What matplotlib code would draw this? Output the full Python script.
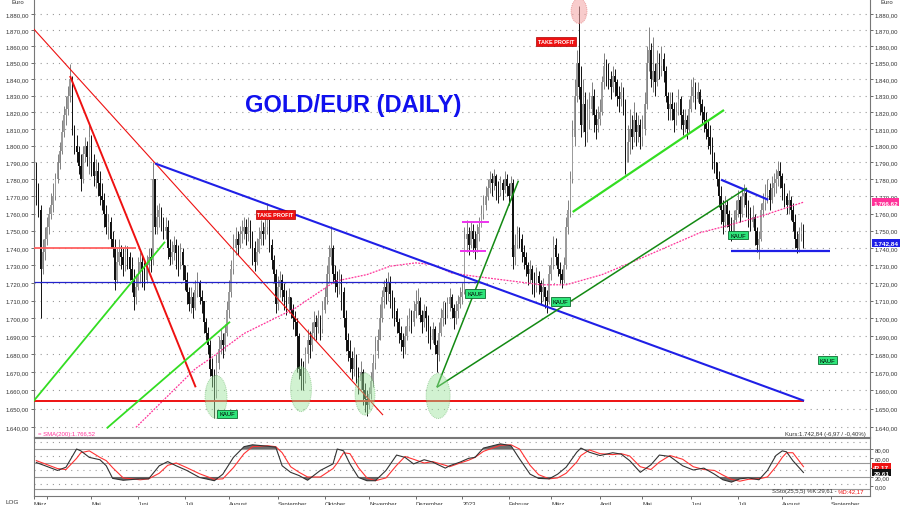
import numpy as np
import pandas as pd
import matplotlib
matplotlib.use("Agg")
import matplotlib.pyplot as plt
from matplotlib.patches import Ellipse
from matplotlib.ticker import FixedLocator, NullLocator, FuncFormatter
from matplotlib.transforms import blended_transform_factory

plt.rcParams['font.family'] = ['Liberation Sans', 'DejaVu Sans']

# daily gold in euro, first bar 25.03.2022
close = [1775, 1762, 1728, 1738, 1745, 1752, 1760, 1765, 1770, 1780,
         1790, 1797, 1808, 1818, 1822, 1830, 1840, 1810, 1800, 1796,
         1788, 1780, 1795, 1800, 1793, 1805, 1790, 1782, 1785, 1778,
         1770, 1768, 1760, 1752, 1755, 1745, 1740, 1722, 1732, 1738,
         1735, 1730, 1738, 1735, 1728, 1722, 1712, 1718, 1725, 1732,
         1728, 1722, 1730, 1735, 1733, 1780, 1752, 1758, 1762, 1755,
         1750, 1752, 1740, 1735, 1738, 1742, 1737, 1732, 1738, 1730,
         1722, 1715, 1708, 1712, 1706, 1716, 1720, 1712, 1710, 1698,
         1692, 1685, 1672, 1668, 1660, 1675, 1683, 1688, 1685, 1692,
         1705, 1715, 1728, 1740, 1745, 1742, 1748, 1750, 1752, 1748,
         1752, 1746, 1740, 1732, 1738, 1745, 1750, 1748, 1752, 1756,
         1742, 1733, 1725, 1708, 1718, 1722, 1716, 1712, 1708, 1712,
         1705, 1700, 1698, 1690, 1672, 1668, 1665, 1680, 1688, 1685,
         1692, 1698, 1695, 1700, 1694, 1705, 1712, 1725, 1735, 1740,
         1725, 1722, 1718, 1722, 1715, 1700, 1688, 1682, 1678, 1672,
         1678, 1670, 1665, 1670, 1660, 1655, 1652, 1658, 1665, 1675,
         1682, 1688, 1700, 1712, 1718, 1715, 1720, 1714, 1708, 1704,
         1698, 1692, 1688, 1684, 1690, 1696, 1700, 1698, 1704, 1708,
         1710, 1702, 1698, 1704, 1700, 1692, 1688, 1694, 1685, 1680,
         1692, 1700, 1705, 1702, 1708, 1712, 1706, 1700, 1704, 1708,
         1712, 1715, 1745, 1748, 1742, 1750, 1745, 1740, 1748, 1752,
         1760, 1765, 1770, 1775, 1780, 1778, 1782, 1776, 1772, 1778,
         1774, 1780, 1776, 1770, 1778, 1735, 1742, 1748, 1745, 1738,
         1735, 1730, 1725, 1728, 1722, 1718, 1724, 1720, 1715, 1718,
         1712, 1710, 1725, 1730, 1742, 1735, 1728, 1725, 1722, 1730,
         1752, 1762, 1780, 1805, 1830, 1850, 1835, 1812, 1825, 1808,
         1815, 1822, 1830, 1818, 1812, 1816, 1820, 1838, 1848, 1845,
         1840, 1835, 1842, 1838, 1830, 1828, 1832, 1826, 1790, 1802,
         1810, 1805, 1815, 1808, 1812, 1805, 1810, 1825, 1850, 1858,
         1840, 1845, 1838, 1850, 1848, 1852, 1845, 1830, 1822, 1825,
         1822, 1815, 1820, 1828, 1818, 1812, 1815, 1810, 1822, 1830,
         1835, 1828, 1832, 1825, 1820, 1815, 1810, 1805, 1800, 1795,
         1790, 1780, 1770, 1762, 1755, 1765, 1760, 1752, 1748, 1756,
         1762, 1768, 1760, 1770, 1772, 1765, 1760, 1755, 1758, 1750,
         1742, 1745, 1762, 1766, 1770, 1774, 1768, 1775, 1778, 1780,
         1785, 1782, 1775, 1770, 1765, 1768, 1762, 1755, 1745, 1740,
         1748, 1749.81, 1742.84]
high = [1790, 1778, 1765, 1745, 1752, 1758, 1764, 1772, 1778, 1784,
        1795, 1802, 1815, 1824, 1830, 1836, 1849, 1842, 1812, 1806,
        1800, 1795, 1800, 1805, 1803, 1812, 1806, 1795, 1792, 1790,
        1785, 1778, 1772, 1765, 1760, 1758, 1750, 1745, 1740, 1745,
        1742, 1740, 1742, 1741, 1738, 1735, 1728, 1725, 1735, 1738,
        1736, 1732, 1736, 1740, 1740, 1790, 1775, 1765, 1766, 1764,
        1758, 1758, 1756, 1745, 1744, 1747, 1745, 1742, 1743, 1740,
        1730, 1726, 1718, 1718, 1715, 1722, 1726, 1722, 1716, 1710,
        1700, 1695, 1688, 1678, 1672, 1680, 1690, 1694, 1692, 1697,
        1710, 1722, 1733, 1748, 1752, 1750, 1753, 1756, 1758, 1757,
        1758, 1756, 1750, 1744, 1746, 1752, 1756, 1755, 1758, 1766,
        1754, 1745, 1736, 1728, 1724, 1727, 1725, 1720, 1716, 1717,
        1712, 1708, 1704, 1700, 1692, 1678, 1676, 1684, 1694, 1693,
        1698, 1704, 1702, 1705, 1702, 1710, 1718, 1730, 1742, 1753,
        1742, 1730, 1727, 1728, 1725, 1718, 1705, 1692, 1688, 1682,
        1684, 1680, 1673, 1676, 1672, 1664, 1660, 1662, 1670, 1680,
        1690, 1694, 1708, 1716, 1722, 1723, 1726, 1724, 1716, 1712,
        1706, 1700, 1696, 1692, 1696, 1702, 1706, 1705, 1710, 1716,
        1717, 1712, 1705, 1708, 1707, 1702, 1696, 1698, 1696, 1688,
        1698, 1706, 1710, 1709, 1712, 1717, 1714, 1708, 1710, 1713,
        1718, 1720, 1752, 1756, 1752, 1755, 1754, 1750, 1754, 1758,
        1765, 1771, 1776, 1780, 1785, 1784, 1786, 1783, 1779, 1782,
        1780, 1785, 1783, 1778, 1782, 1780, 1748, 1753, 1752, 1748,
        1742, 1738, 1732, 1733, 1730, 1726, 1729, 1727, 1722, 1723,
        1718, 1716, 1730, 1735, 1747, 1746, 1737, 1732, 1728, 1735,
        1758, 1768, 1785, 1815, 1840, 1858, 1885, 1848, 1840, 1832,
        1828, 1832, 1838, 1834, 1822, 1824, 1828, 1842, 1856, 1852,
        1850, 1845, 1848, 1846, 1840, 1836, 1838, 1835, 1828, 1812,
        1822, 1818, 1826, 1820, 1818, 1816, 1818, 1832, 1860, 1872,
        1862, 1866, 1850, 1858, 1856, 1860, 1856, 1848, 1832, 1832,
        1832, 1826, 1826, 1834, 1830, 1822, 1822, 1818, 1828, 1840,
        1841, 1838, 1838, 1834, 1828, 1824, 1820, 1815, 1812, 1805,
        1796, 1790, 1785, 1776, 1768, 1770, 1768, 1762, 1758, 1762,
        1768, 1774, 1770, 1775, 1777, 1775, 1768, 1764, 1765, 1760,
        1752, 1750, 1766, 1772, 1777, 1780, 1778, 1782, 1784, 1786,
        1791, 1790, 1784, 1778, 1772, 1774, 1770, 1766, 1760, 1750,
        1752, 1755, 1754]
low = [1765, 1758, 1700, 1725, 1733, 1742, 1748, 1757, 1761, 1768,
       1778, 1786, 1795, 1805, 1812, 1818, 1826, 1806, 1795, 1790,
       1783, 1773, 1778, 1790, 1788, 1783, 1782, 1776, 1775, 1770,
       1765, 1762, 1752, 1748, 1745, 1740, 1735, 1716, 1720, 1730,
       1728, 1724, 1727, 1728, 1722, 1715, 1705, 1708, 1716, 1720,
       1718, 1716, 1720, 1727, 1726, 1730, 1748, 1748, 1752, 1750,
       1745, 1745, 1734, 1730, 1731, 1733, 1728, 1724, 1728, 1722,
       1716, 1708, 1704, 1703, 1700, 1705, 1712, 1708, 1703, 1692,
       1688, 1680, 1668, 1662, 1645, 1656, 1672, 1680, 1678, 1682,
       1690, 1700, 1712, 1725, 1736, 1736, 1740, 1743, 1745, 1742,
       1744, 1740, 1730, 1727, 1730, 1737, 1742, 1742, 1745, 1748,
       1738, 1728, 1720, 1703, 1705, 1712, 1710, 1705, 1702, 1703,
       1700, 1694, 1690, 1670, 1666, 1660, 1660, 1664, 1675, 1678,
       1682, 1688, 1688, 1692, 1688, 1692, 1703, 1708, 1720, 1730,
       1720, 1715, 1712, 1714, 1705, 1695, 1682, 1676, 1670, 1666,
       1668, 1664, 1658, 1660, 1652, 1648, 1646, 1650, 1655, 1662,
       1672, 1678, 1688, 1698, 1706, 1708, 1710, 1706, 1700, 1696,
       1692, 1686, 1682, 1678, 1680, 1688, 1693, 1692, 1696, 1700,
       1702, 1698, 1692, 1695, 1693, 1686, 1683, 1686, 1680, 1670,
       1676, 1690, 1696, 1697, 1700, 1704, 1700, 1694, 1697, 1700,
       1706, 1708, 1714, 1738, 1736, 1740, 1738, 1734, 1738, 1744,
       1752, 1757, 1762, 1768, 1772, 1770, 1774, 1768, 1766, 1770,
       1768, 1772, 1770, 1765, 1768, 1728, 1730, 1740, 1740, 1732,
       1728, 1724, 1719, 1720, 1714, 1712, 1715, 1714, 1708, 1710,
       1706, 1703, 1708, 1722, 1728, 1730, 1724, 1720, 1717, 1720,
       1728, 1748, 1758, 1778, 1800, 1826, 1828, 1805, 1808, 1800,
       1802, 1810, 1818, 1808, 1804, 1808, 1812, 1818, 1834, 1836,
       1834, 1828, 1832, 1830, 1824, 1820, 1824, 1818, 1783, 1790,
       1795, 1798, 1802, 1800, 1802, 1798, 1800, 1806, 1822, 1845,
       1835, 1832, 1830, 1836, 1840, 1842, 1838, 1826, 1815, 1815,
       1815, 1808, 1812, 1818, 1810, 1806, 1808, 1804, 1808, 1820,
       1826, 1822, 1826, 1818, 1812, 1808, 1804, 1798, 1795, 1786,
       1784, 1776, 1764, 1754, 1748, 1752, 1752, 1745, 1744, 1746,
       1755, 1758, 1755, 1758, 1764, 1758, 1752, 1750, 1752, 1742,
       1738, 1734, 1744, 1758, 1762, 1766, 1762, 1766, 1770, 1772,
       1776, 1775, 1768, 1764, 1760, 1760, 1756, 1750, 1740, 1737,
       1738, 1744, 1740]
first_open = 1780

# SMA(200) (bar index, value)
sma_idx = [47, 75, 82, 98, 106, 122, 141, 156, 167, 179, 187, 196, 207,
           226, 238, 250, 267, 282, 313, 326, 342, 362]
sma_val = [1639.8, 1671.9, 1677.5, 1691.5, 1696.2, 1705.6, 1721.0, 1724.8,
           1729.6, 1731.5, 1730.5, 1725.7, 1723.8, 1720.9, 1719.0, 1719.0,
           1724.8, 1732.4, 1748.8, 1752.9, 1758.5, 1766.6]

# slow stochastic (25,5,5)
stoch_idx = [0, 3, 10, 14, 19, 21, 25, 30, 33, 36, 41, 49, 53, 58, 62, 66, 71,
             77, 84, 88, 93, 98, 102, 109, 113, 116, 120, 124, 128, 134, 140,
             142, 145, 148, 152, 156, 160, 165, 170, 174, 178, 183, 187, 193,
             195, 200, 204, 207, 211, 219, 224, 228, 233, 237, 242, 246, 250,
             255, 257, 261, 266, 272, 276, 280, 285, 290, 294, 299, 305, 310,
             315, 320, 324, 328, 332, 336, 341, 345, 349, 352, 354, 357, 362]
stoch_k = [51, 46, 34, 41, 80, 76, 62, 57, 44, 17, 13, 16, 16, 44, 53, 44, 34,
           19, 12, 26, 62, 85, 89, 86, 84, 44, 30, 23, 13, 34, 48,
           80, 76, 48, 19, 12, 12, 34, 67, 62, 48, 57, 52, 39,
           44, 52, 60, 62, 82, 91, 87, 59, 26, 17, 16, 26, 41,
           73, 82, 73, 66, 72, 69, 55, 30, 46, 67, 64, 44, 35,
           39, 26, 14, 9, 16, 18, 14, 34, 66, 76, 74, 55, 29.61]
stoch_d = [55, 50, 38, 36, 60, 72, 76, 62, 55, 40, 18, 14, 16, 28, 45, 50, 40,
           27, 15, 16, 40, 70, 85, 87, 85, 72, 42, 30, 20, 20, 38,
           50, 72, 70, 40, 18, 12, 18, 45, 64, 58, 50, 53, 45,
           42, 50, 56, 62, 75, 88, 89, 80, 45, 25, 16, 18, 28,
           52, 66, 78, 70, 68, 70, 65, 42, 36, 52, 66, 58, 42,
           36, 34, 24, 15, 11, 15, 16, 20, 42, 62, 72, 72, 42.17]

# drawn trend lines: (start bar, start price), (end bar, end price), colour, width
trend_lines = [
    ((-1.6, 1871.3), (163.6, 1646.5), '#ee1111', 0.8),
    ((15.9, 1841.9), (75.2, 1661.7), '#ee1111', 1.4),
    ((-1.0, 1654.2), (362.3, 1654.2), '#ee1111', 1.4),
    ((-1.0, 1740.0), (47.1, 1740.0), '#ff6060', 1.3),
    ((-1.0, 1720.4), (209.4, 1720.4), '#2222cc', 0.9),
    ((56.0, 1789.4), (362.3, 1654.3), '#1f1fe6', 1.5),
    ((323.1, 1779.8), (345.4, 1768.0), '#1f1fe6', 1.6),
    ((327.8, 1738.4), (374.6, 1738.4), '#1f1fe6', 1.6),
    ((-1.4, 1654.0), (60.7, 1743.6), '#33dd22', 1.3),
    ((33.2, 1639.3), (91.4, 1698.1), '#33dd22', 1.3),
    ((253.1, 1760.9), (324.5, 1821.3), '#33dd22', 1.6),
    ((189.0, 1661.7), (227.5, 1779.2), '#138a13', 1.1),
    ((189.0, 1661.7), (335.3, 1774.9), '#138a13', 1.1),
    ((200.8, 1755.2), (213.6, 1755.2), '#ee33ee', 1.4),
    ((200.1, 1738.4), (212.1, 1738.4), '#ee33ee', 1.4),
]
# marked lows / high: bar, price, width px, height px
green_marks = [(84.8, 1656.4, 22, 43), (124.9, 1660.7, 21, 45),
               (155.1, 1658.0, 20, 42), (189.6, 1656.9, 24, 45)]
red_marks = [(256.1, 1881.9, 16, 25)]
kauf_labels = [(90.0, 1647.1), (207.0, 1714.0), (247.2, 1709.5),
               (331.1, 1747.5), (373.2, 1676.7)]
take_profit_labels = [(112.9, 1759.5), (245.3, 1863.0)]

months_de = ['2023', 'Februar', 'März', 'April', 'Mai', 'Juni', 'Juli',
             'August', 'September', 'Oktober', 'November', 'Dezember']


def de_num(v):
    s = f"{v:,.2f}"
    return s.replace(',', 'X').replace('.', ',').replace('X', '.')


c = np.array(close, dtype=float)
h = np.array(high, dtype=float)
l = np.array(low, dtype=float)
o = np.r_[first_open, c[:-1]]
x = np.arange(len(c))
h = np.maximum(h, np.maximum(o, c))
l = np.minimum(l, np.minimum(o, c))

fig = plt.figure(figsize=(9, 5.06), dpi=100)
ax = fig.add_axes([34 / 900, 68 / 506, 836 / 900, 438 / 506])
ax2 = fig.add_axes([34 / 900, 9 / 506, 836 / 900, 58 / 506], sharex=ax)

ax.set_yscale('log')
ax.set_xlim(-1.1, 393.4)
ax.set_ylim(1634.6, 1889.4)

for v in range(1640, 1890, 10):
    ax.axhline(v, color='#9a9a9a', lw=0.8, ls=(0, (1, 4.5)), zorder=0)

# candles
up = c >= o
for mask, body_col, wick_col in [(up, '#9c9c9c', '#808080'), (~up, '#111111', '#111111')]:
    ax.vlines(x[mask], l[mask], h[mask], color=wick_col, lw=0.7, zorder=2)
    lo = np.minimum(o, c)[mask]
    hi = np.maximum(o, c)[mask]
    ax.bar(x[mask], np.maximum(hi - lo, 0.4), bottom=lo, width=0.75,
           color=body_col, edgecolor='none', zorder=2)

ax.plot(sma_idx, sma_val, color='#ff3399', lw=0.9, ls=(0, (1.5, 1)), zorder=3)

for (x0, y0), (x1, y1), col, lw in trend_lines:
    ax.plot([x0, x1], [y0, y1], color=col, lw=lw, zorder=4, solid_capstyle='butt')

to_axes = ax.transData + ax.transAxes.inverted()
for i, p, w, hh in green_marks:
    cx, cy = to_axes.transform((i, p))
    ax.add_patch(Ellipse((cx, cy), w / 836, hh / 438, transform=ax.transAxes,
                         fc='#9be39b', ec='#55aa55', alpha=0.45, lw=0.7,
                         ls=(0, (1, 1)), zorder=5))
for i, p, w, hh in red_marks:
    cx, cy = to_axes.transform((i, p))
    ax.add_patch(Ellipse((cx, cy), w / 836, hh / 438, transform=ax.transAxes,
                         fc='#f4a3a3', ec='#dd6666', alpha=0.55, lw=0.7,
                         ls=(0, (1, 1)), zorder=5))

for i, p in kauf_labels:
    ax.text(i, p, 'KAUF', ha='center', va='center', fontsize=4.2, color='black',
            zorder=7, bbox=dict(boxstyle='square,pad=0.3', fc='#2ee57a',
                                ec='#0e6b30', lw=0.6))
for i, p in take_profit_labels:
    ax.text(i, p, 'TAKE PROFIT', ha='center', va='center', fontsize=4.0,
            color='white', fontweight='bold', zorder=7,
            bbox=dict(boxstyle='square,pad=0.3', fc='#ee1111', ec='#aa0000', lw=0.5))

ax.text(149.5, 1824.9, 'GOLD/EUR (DAILY)', ha='center', va='center',
        fontsize=17, fontweight='bold', color='#1010ee', zorder=7)

ax.text(0.005, 0.009, '= SMA(200):1.766,52', transform=ax.transAxes, fontsize=4.3,
        color='#ff3399', ha='left', va='center')
ax.text(0.995, 0.009, 'Kurs:1.742,84 (-6,97 / -0,40%)', transform=ax.transAxes,
        fontsize=4.3, color='#333333', ha='right', va='center')

ax.yaxis.set_major_locator(FixedLocator(list(range(1640, 1890, 10))))
ax.yaxis.set_minor_locator(NullLocator())
ax.yaxis.set_major_formatter(FuncFormatter(lambda v, pos: de_num(v)))
ax.tick_params(axis='y', which='both', left=True, right=True, labelleft=True,
               labelright=True, labelsize=4.3, length=2, pad=1.5,
               colors='#333333', width=0.5)
ax.tick_params(axis='x', bottom=False, labelbottom=False)
for side in ['left', 'right', 'bottom']:
    ax.spines[side].set_color('#777777')
    ax.spines[side].set_linewidth(0.8)
ax.spines['top'].set_visible(False)

# value tags on the right edge
tag_tr = blended_transform_factory(ax.transAxes, ax.transData)
ax.text(1.004, 1766.62, de_num(1766.62), transform=tag_tr, fontsize=4.6,
        color='white', fontweight='bold', va='center', ha='left',
        bbox=dict(boxstyle='square,pad=0.2', fc='#ff3399', ec='none'), zorder=8)
ax.text(1.004, 1742.84, de_num(1742.84), transform=tag_tr, fontsize=4.6,
        color='white', fontweight='bold', va='center', ha='left',
        bbox=dict(boxstyle='square,pad=0.2', fc='#1f1fe6', ec='none'), zorder=8)

fig.text(18 / 900, 1 - 2 / 506, 'Euro', fontsize=4.3, ha='center', va='center', color='#333333')
fig.text(887 / 900, 1 - 2 / 506, 'Euro', fontsize=4.3, ha='center', va='center', color='#333333')

# stochastic panel
ax2.set_ylim(-20.8, 103.6)
for v in [80, 50, 20, -5]:
    ax2.axhline(v, color='#999999', lw=0.8, zorder=1)
for v in [95, 65, 35, 5]:
    ax2.axhline(v, color='#9a9a9a', lw=0.8, ls=(0, (1, 4.5)), zorder=0)
sk = np.array(stoch_k, dtype=float)
sd = np.array(stoch_d, dtype=float)
ax2.fill_between(stoch_idx, sk, 80, where=sk > 80, interpolate=True,
                 color='#555555', alpha=0.85, lw=0, zorder=2)
ax2.fill_between(stoch_idx, sk, 20, where=sk < 20, interpolate=True,
                 color='#555555', alpha=0.85, lw=0, zorder=2)
ax2.plot(stoch_idx, sd, color='#ff3333', lw=0.8, zorder=3)
ax2.plot(stoch_idx, sk, color='#333333', lw=0.8, zorder=4)

ax2.yaxis.tick_right()
ax2.set_yticks([0, 20, 40, 60, 80])
ax2.yaxis.set_major_formatter(FuncFormatter(lambda v, pos: de_num(v)))
ax2.tick_params(axis='y', labelsize=4.3, length=2, pad=1.5, colors='#333333', width=0.5)

tag_tr2 = blended_transform_factory(ax2.transAxes, ax2.transData)
ax2.text(1.004, stoch_d[-1], de_num(stoch_d[-1]), transform=tag_tr2, fontsize=4.6,
         color='white', fontweight='bold', va='center', ha='left',
         bbox=dict(boxstyle='square,pad=0.2', fc='#ee1111', ec='none'), zorder=8)
ax2.text(1.004, stoch_k[-1], de_num(stoch_k[-1]), transform=tag_tr2, fontsize=4.6,
         color='white', fontweight='bold', va='center', ha='left',
         bbox=dict(boxstyle='square,pad=0.2', fc='#111111', ec='none'), zorder=8)

ax2.text(0.962, 0.09, 'SSto(25,5,5) %K:29,61 - ', transform=ax2.transAxes,
         fontsize=4.3, color='#333333', ha='right', va='center')
ax2.text(0.962, 0.09, '%D:42,17', transform=ax2.transAxes,
         fontsize=4.3, color='#ee1111', ha='left', va='center')

# month ticks along the bottom
days = pd.bdate_range('2022-03-25', periods=400)
month_pos, month_lab = [-1.1], ['März']
for k in range(1, len(days)):
    if days[k].month != days[k - 1].month and k < 393:
        month_pos.append(k)
        month_lab.append('' if k < 10 else months_de[days[k].month - 1])
ax2.set_xticks(month_pos)
ax2.set_xticklabels(month_lab)
ax2.tick_params(axis='x', labelsize=4.3, length=2.5, pad=1, colors='#333333', width=0.5)
for lbl in ax2.get_xticklabels():
    lbl.set_horizontalalignment('left')
for side in ax2.spines:
    ax2.spines[side].set_color('#777777')
    ax2.spines[side].set_linewidth(0.8)

fig.text(12 / 900, 3 / 506, 'LOG', fontsize=4.6, ha='center', va='center', color='#333333')

fig.savefig('out.png', dpi=100)
